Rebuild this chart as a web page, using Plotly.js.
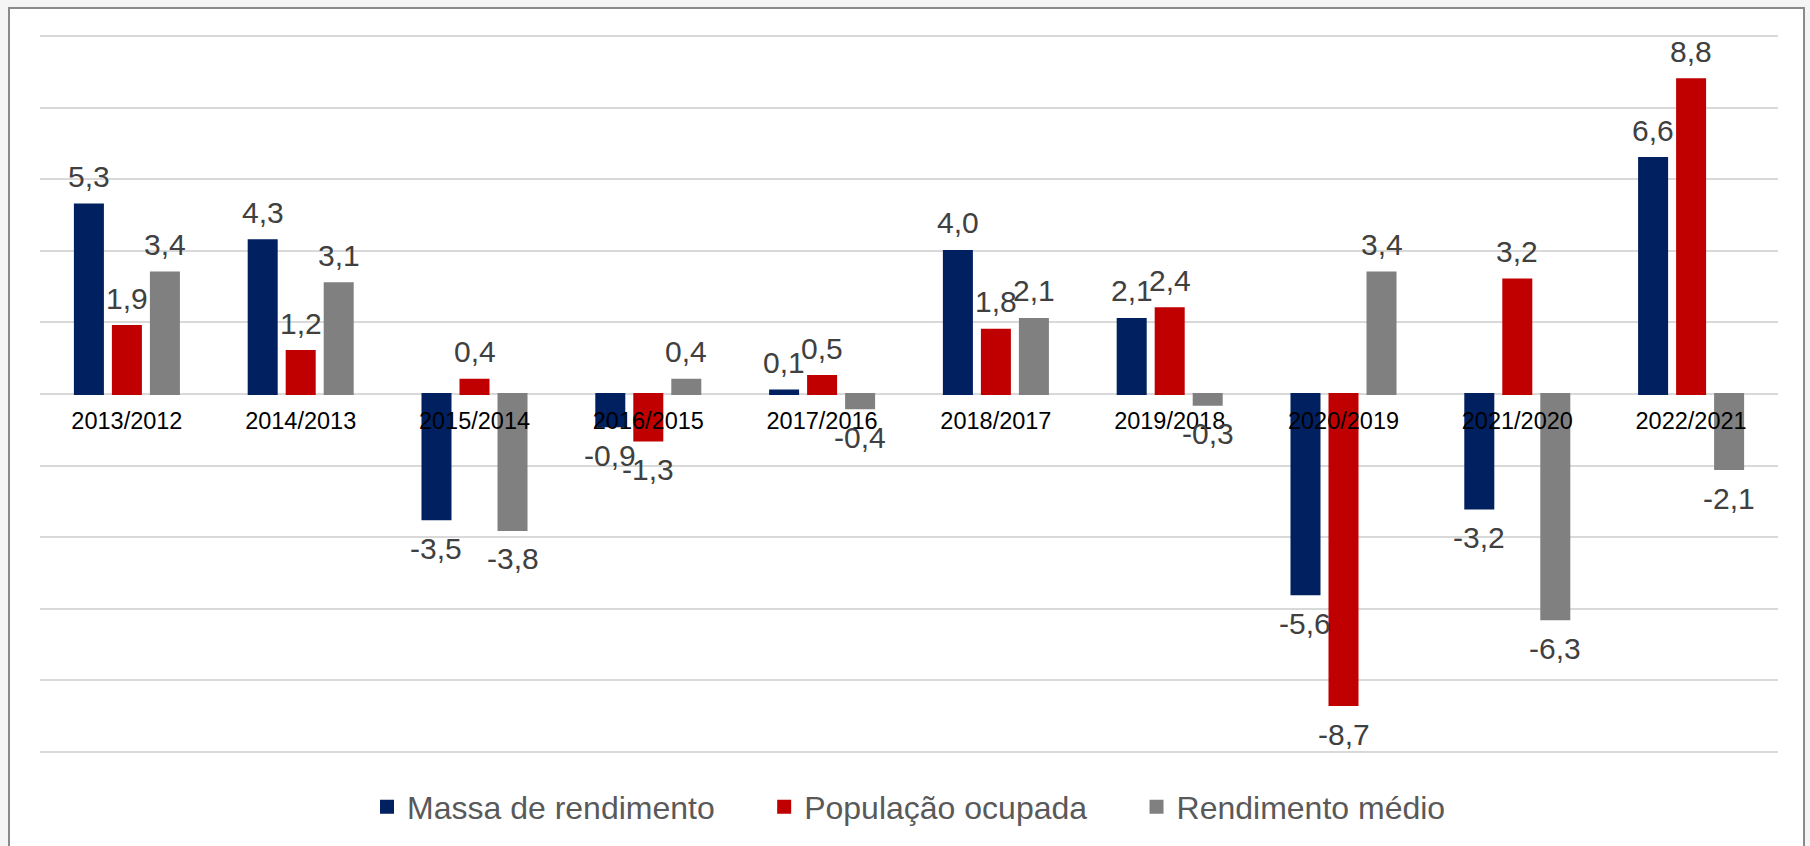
<!DOCTYPE html>
<html>
<head>
<meta charset="utf-8">
<script src="https://cdn.plot.ly/plotly-3.0.1.min.js"></script>
<style>
html,body{margin:0;padding:0;background:#f5f5f5;}
#frame{position:absolute;left:8px;top:7px;width:1793px;height:860px;background:#fff;border:2px solid #8a8a8a;}
#graph{position:absolute;left:0;top:0;width:1810px;height:846px;}
</style>
</head>
<body>
<div id="frame"></div>
<div id="graph"></div>
<script>
let periodos = ['2013/2012','2014/2013','2015/2014','2016/2015','2017/2016',
'2018/2017','2019/2018','2020/2019','2021/2020','2022/2021'];

let massa = [5.3, 4.3, -3.5, -0.9, 0.1, 4.0, 2.1, -5.6, -3.2, 6.6];
let populacao = [1.9, 1.2, 0.4, -1.3, 0.5, 1.8, 2.4, -8.7, 3.2, 8.8];
let rendimento = [3.4, 3.1, -3.8, 0.4, -0.4, 2.1, -0.3, 3.4, -6.3, -2.1];

let nomes = ['Massa de rendimento','População ocupada','Rendimento médio'];
let cores = ['#002060','#c00000','#808080'];

// espaço extra entre os itens da legenda
let sep = '\u00a0\u00a0\u00a0\u00a0\u00a0';

function rotulo(v){
    return v.toFixed(1).replace('.',',');
}

let series = [massa,populacao,rendimento];

let traces = series.map((valores,i)=>({
    type:'bar',
    name:nomes[i] + (i<2 ? sep : ''),
    x:periodos,
    y:valores,
    marker:{color:cores[i],line:{color:cores[i],width:2}},
    hoverinfo:'none'
}));

// rótulos de dados: deslocados do centro do grupo até a barra de cada série
let largCat = (1810-40-32)/periodos.length;
let bargap = 0.344;
let slot = (1-bargap)*largCat/3;

let anotacoes = [];
series.forEach((valores,i)=>{
    valores.forEach((v,j)=>{
        anotacoes.push({
            x:periodos[j],
            y:v,
            xref:'x',
            yref:'y',
            text:rotulo(v),
            showarrow:false,
            xshift:(i-1)*slot,
            yshift:v>=0 ? 28 : -29,
            yanchor:'middle',
            font:{size:30,color:'#404040'}
        });
    });
});

Plotly.newPlot('graph',traces,
{
    width:1810,
    height:846,
    paper_bgcolor:'rgba(0,0,0,0)',
    plot_bgcolor:'rgba(0,0,0,0)',
    font:{family:'Liberation Sans, Arial, sans-serif',color:'#000'},
    margin:{l:40,r:32,t:35,b:91},
    barmode:'group',
    bargap:bargap,
    bargroupgap:0.263,
    showlegend:true,
    legend:{
        orientation:'h',
        x:0.5,
        xanchor:'center',
        y:-0.075,
        yanchor:'middle',
        font:{size:32,color:'#595959'},
        itemclick:false
    },
    annotations:anotacoes,
    xaxis:{
        anchor:'free',
        position:0.5,
        showgrid:false,
        showline:false,
        ticks:'',
        ticklabelstandoff:10,
        tickfont:{size:23.5,color:'#000'},
        fixedrange:true
    },
    yaxis:{
        range:[-10.04,10.04],
        tickvals:[-10,-8,-6,-4,-2,0,2,4,6,8,10],
        showticklabels:false,
        gridcolor:'#d9d9d9',
        gridwidth:2,
        zeroline:true,
        zerolinecolor:'#d9d9d9',
        zerolinewidth:2,
        fixedrange:true
    }
},
{displayModeBar:false,staticPlot:true});
</script>
</body>
</html>
